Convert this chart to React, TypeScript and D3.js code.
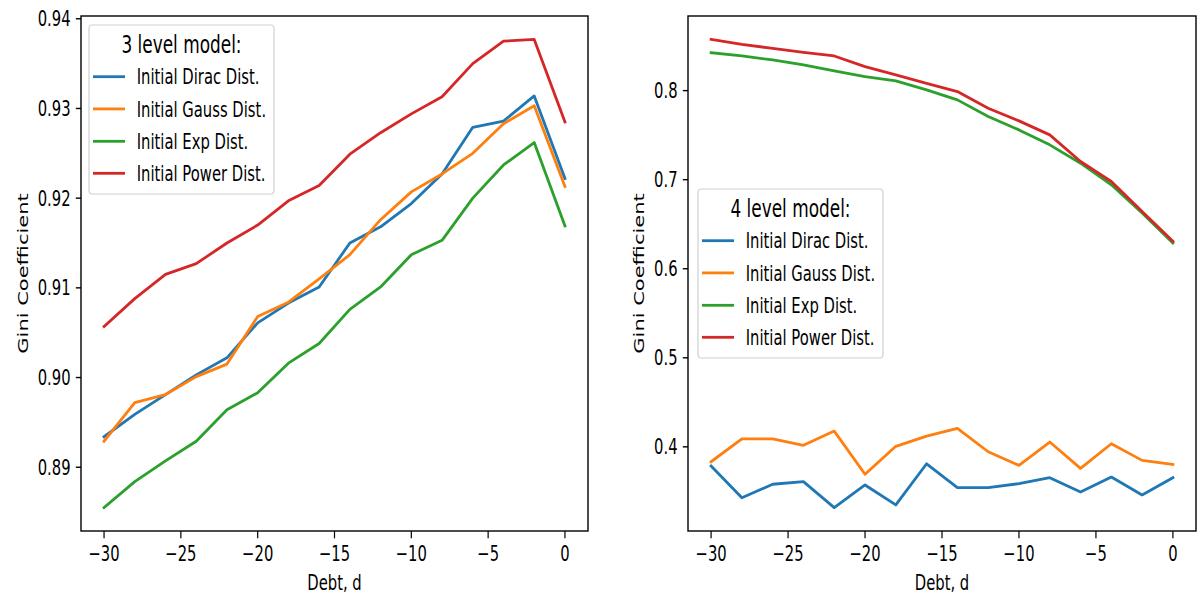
import React from "react";
import * as d3 from "d3";

// Debt values shared by every series
const debt = [-30, -28, -26, -24, -22, -20, -18, -16, -14, -12, -10, -8, -6, -4, -2, 0];

// 3 level model
const threeDirac = [0.8934, 0.8959, 0.8981, 0.9003, 0.9022, 0.9061, 0.9083, 0.9101, 0.9150, 0.9168, 0.9194, 0.9227, 0.9279, 0.9286, 0.9314, 0.9222];
const threeGauss = [0.8929, 0.8972, 0.8981, 0.9001, 0.9015, 0.9068, 0.9084, 0.9110, 0.9137, 0.9176, 0.9207, 0.9227, 0.9250, 0.9283, 0.9303, 0.9213];
const threeExp = [0.8855, 0.8884, 0.8907, 0.8929, 0.8964, 0.8983, 0.9016, 0.9038, 0.9076, 0.9101, 0.9137, 0.9153, 0.9200, 0.9237, 0.9262, 0.9169];
const threePower = [0.9057, 0.9088, 0.9115, 0.9127, 0.9150, 0.9170, 0.9197, 0.9214, 0.9249, 0.9273, 0.9294, 0.9313, 0.9350, 0.9375, 0.9377, 0.9285];

// 4 level model
const fourDirac = [0.3785, 0.3429, 0.3580, 0.3609, 0.3318, 0.3572, 0.3348, 0.3810, 0.3542, 0.3542, 0.3587, 0.3654, 0.3493, 0.3661, 0.3460, 0.3654];
const fourGauss = [0.3833, 0.4090, 0.4090, 0.4017, 0.4177, 0.3692, 0.4006, 0.4121, 0.4207, 0.3945, 0.3792, 0.4054, 0.3759, 0.4035, 0.3848, 0.3803];
const fourExp = [0.8426, 0.8389, 0.8344, 0.8288, 0.8221, 0.8157, 0.8109, 0.8008, 0.7896, 0.7709, 0.7559, 0.7391, 0.7185, 0.6943, 0.6625, 0.6288];
const fourPower = [0.8575, 0.8519, 0.8474, 0.8430, 0.8389, 0.8269, 0.8176, 0.8082, 0.7989, 0.7802, 0.7660, 0.7503, 0.7204, 0.6980, 0.6644, 0.6307];

const seriesNames = ["Initial Dirac Dist.", "Initial Gauss Dist.", "Initial Exp Dist.", "Initial Power Dist."];
const seriesColors = ["#1f77b4", "#ff7f0e", "#2ca02c", "#d62728"];

const xTicks = [-30, -25, -20, -15, -10, -5, 0];
const threeYTicks = [0.89, 0.9, 0.91, 0.92, 0.93, 0.94];
const fourYTicks = [0.4, 0.5, 0.6, 0.7, 0.8];

const W = 1198;
const H = 599;
const FONT = "DejaVu Sans, sans-serif";
const FS = 21;
const SX = 0.705;
const TOP = 16;
const BOTTOM = 531;

type PanelProps = {
  left: number;
  right: number;
  series: number[][];
  yTicks: number[];
  yFormat: (v: number) => string;
  yLabelGap: number;
  legendTitle: string;
  legendX: number;
  legendY: number;
};

function Panel({ left, right, series, yTicks, yFormat, yLabelGap, legendTitle, legendX, legendY }: PanelProps) {
  const x = d3.scaleLinear().domain([-31.5, 1.5]).range([left, right]);
  const all = series.flat();
  const lo = d3.min(all) as number;
  const hi = d3.max(all) as number;
  const pad = (hi - lo) * 0.05;
  const y = d3.scaleLinear().domain([lo - pad, hi + pad]).range([BOTTOM, TOP]);
  const line = d3
    .line<number>()
    .x((_, i) => x(debt[i]))
    .y((v) => y(v));

  const tickLenY = 7.35 * SX;
  const tickLenX = 7.35;
  const legendW = 185;
  const legendH = 169;
  const rowOffsets = [51.7, 83.9, 116.3, 148.3];

  const fmtX = (v: number) => (v < 0 ? "\u2212" + Math.abs(v) : String(v));

  return (
    <g>
      {series.map((s, i) => (
        <path
          key={i}
          d={line(s) || ""}
          fill="none"
          stroke={seriesColors[i]}
          strokeWidth={2.8}
          strokeLinejoin="round"
          strokeLinecap="square"
        />
      ))}
      <rect x={left} y={TOP} width={right - left} height={BOTTOM - TOP} fill="none" stroke="#000" strokeWidth={1.4} />
      {xTicks.map((t) => (
        <g key={t}>
          <line x1={x(t)} x2={x(t)} y1={BOTTOM} y2={BOTTOM + tickLenX} stroke="#000" strokeWidth={1.2} />
          <text
            transform={`translate(${x(t)},${561}) scale(${SX},1)`}
            textAnchor="middle"
            fontFamily={FONT}
            fontSize={FS}
            fill="#000"
          >
            {fmtX(t)}
          </text>
        </g>
      ))}
      {yTicks.map((t) => (
        <g key={t}>
          <line x1={left - tickLenY} x2={left} y1={y(t)} y2={y(t)} stroke="#000" strokeWidth={1.4} />
          <text
            transform={`translate(${left - 10.4},${y(t) + 7.6}) scale(${SX},1)`}
            textAnchor="end"
            fontFamily={FONT}
            fontSize={FS}
            fill="#000"
          >
            {yFormat(t)}
          </text>
        </g>
      ))}
      <text
        transform={`translate(${(left + right) / 2},590) scale(${SX},1)`}
        textAnchor="middle"
        fontFamily={FONT}
        fontSize={FS}
        fill="#000"
      >
        Debt, d
      </text>
      <text
        transform={`translate(${left - yLabelGap},${(TOP + BOTTOM) / 2}) scale(${SX},1) rotate(-90)`}
        textAnchor="middle"
        fontFamily={FONT}
        fontSize={FS}
        fill="#000"
      >
        Gini Coefficient
      </text>
      <g>
        <rect
          x={legendX}
          y={legendY}
          width={legendW}
          height={legendH}
          rx={3}
          ry={4}
          fill="#fff"
          fillOpacity={0.8}
          stroke="#d0d0d0"
          strokeWidth={1.2}
        />
        <text
          transform={`translate(${legendX + legendW / 2},${legendY + 19 + 8.8}) scale(${SX},1)`}
          textAnchor="middle"
          fontFamily={FONT}
          fontSize={24}
          fill="#000"
        >
          {legendTitle}
        </text>
        {seriesNames.map((name, i) => (
          <g key={name}>
            <line
              x1={legendX + 4}
              x2={legendX + 36}
              y1={legendY + rowOffsets[i]}
              y2={legendY + rowOffsets[i]}
              stroke={seriesColors[i]}
              strokeWidth={2.8}
            />
            <text
              transform={`translate(${legendX + 47.7},${legendY + rowOffsets[i] + 7.6}) scale(${SX},1)`}
              fontFamily={FONT}
              fontSize={FS}
              fill="#000"
            >
              {name}
            </text>
          </g>
        ))}
      </g>
    </g>
  );
}

export default function App() {
  return (
    <svg
      width={W}
      height={H}
      viewBox={`0 0 ${W} ${H}`}
      style={{ display: "block", background: "#fff", position: "absolute", left: 0, top: 0 }}
    >
      <rect x={0} y={0} width={W} height={H} fill="#fff" />
      <Panel
        left={81}
        right={588}
        series={[threeDirac, threeGauss, threeExp, threePower]}
        yTicks={threeYTicks}
        yFormat={(v) => v.toFixed(2)}
        yLabelGap={53}
        legendTitle="3 level model:"
        legendX={89}
        legendY={25}
      />
      <Panel
        left={688}
        right={1196}
        series={[fourDirac, fourGauss, fourExp, fourPower]}
        yTicks={fourYTicks}
        yFormat={(v) => v.toFixed(1)}
        yLabelGap={44}
        legendTitle="4 level model:"
        legendX={698}
        legendY={189}
      />
    </svg>
  );
}
